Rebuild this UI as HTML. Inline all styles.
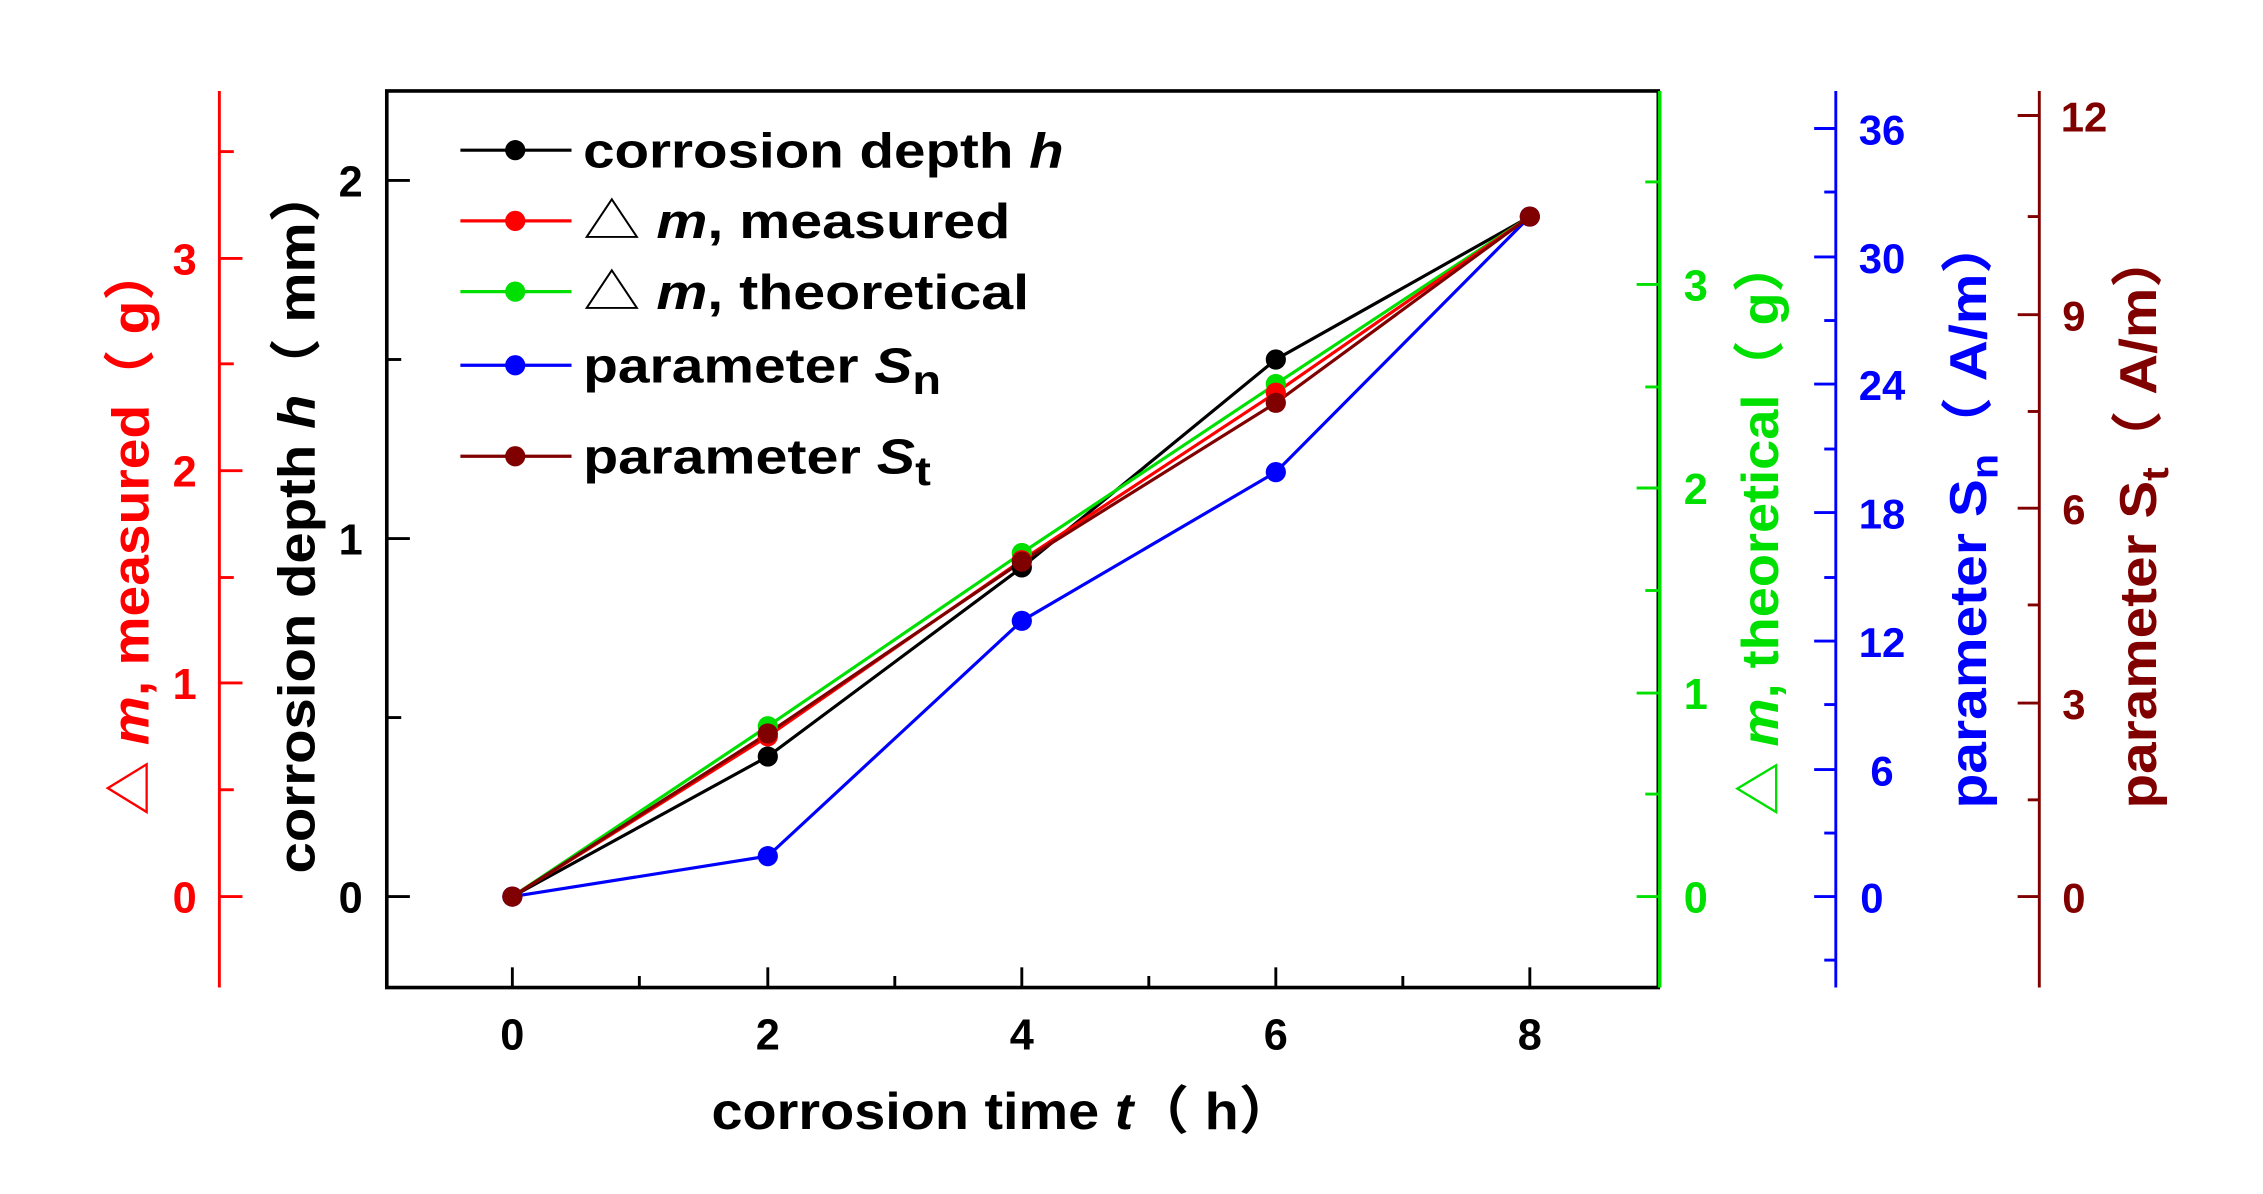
<!DOCTYPE html>
<html><head><meta charset="utf-8"><style>
html,body{margin:0;padding:0;background:#fff}
svg{display:block}
text{font-family:"Liberation Sans","Noto Sans CJK SC",sans-serif;font-weight:bold}
</style></head><body>
<svg width="2263" height="1194" viewBox="0 0 1568 827" preserveAspectRatio="none" xmlns="http://www.w3.org/2000/svg">
<rect width="1568" height="827" fill="#fff"/>
<rect x="268" y="63" width="881" height="621" fill="none" stroke="#000" stroke-width="2.5"/>
<line x1="1150" y1="63" x2="1150" y2="684" stroke="#00e000" stroke-width="2.5"/>
<g stroke="#000" stroke-width="2">
<line x1="355" y1="684" x2="355" y2="670"/><line x1="532" y1="684" x2="532" y2="670"/><line x1="708" y1="684" x2="708" y2="670"/><line x1="884" y1="684" x2="884" y2="670"/><line x1="1060" y1="684" x2="1060" y2="670"/>
<line x1="443" y1="684" x2="443" y2="676"/><line x1="620" y1="684" x2="620" y2="676"/><line x1="796" y1="684" x2="796" y2="676"/><line x1="972" y1="684" x2="972" y2="676"/>
<line x1="268" y1="621" x2="284" y2="621"/><line x1="268" y1="373" x2="284" y2="373"/><line x1="268" y1="125" x2="284" y2="125"/>
<line x1="268" y1="497" x2="278" y2="497"/><line x1="268" y1="249" x2="278" y2="249"/>
</g>
<g font-size="30" fill="#000" text-anchor="middle">
<text x="355" y="727">0</text><text x="532" y="727">2</text><text x="708" y="727">4</text><text x="884" y="727">6</text><text x="1060" y="727">8</text>
<text x="243" y="632">0</text><text x="243" y="384">1</text><text x="243" y="136">2</text>
</g>
<text x="493" y="782" font-size="36" fill="#000" textLength="404" lengthAdjust="spacingAndGlyphs">corrosion time <tspan font-style="italic">t</tspan>（ h）</text>
<text transform="translate(218,605) rotate(-90)" font-size="36" fill="#000" textLength="490" lengthAdjust="spacingAndGlyphs">corrosion depth <tspan font-style="italic">h</tspan>（ mm）</text>

<g stroke="#ff0000" stroke-width="2">
<line x1="152" y1="63" x2="152" y2="684"/>
<line x1="152" y1="621" x2="168" y2="621"/><line x1="152" y1="473" x2="168" y2="473"/><line x1="152" y1="326" x2="168" y2="326"/><line x1="152" y1="179" x2="168" y2="179"/>
<line x1="152" y1="547" x2="162" y2="547"/><line x1="152" y1="400" x2="162" y2="400"/><line x1="152" y1="252" x2="162" y2="252"/><line x1="152" y1="105" x2="162" y2="105"/>
</g>
<g font-size="30" fill="#ff0000" text-anchor="middle">
<text x="128" y="632">0</text><text x="128" y="484">1</text><text x="128" y="337">2</text><text x="128" y="190">3</text>
</g>
<text transform="translate(103,565) rotate(-90)" font-size="36" fill="#ff0000" textLength="395" lengthAdjust="spacingAndGlyphs">△ <tspan font-style="italic">m</tspan>,  measured（ g）</text>

<g stroke="#00e000" stroke-width="2">
<line x1="1150" y1="621" x2="1134" y2="621"/><line x1="1150" y1="480" x2="1134" y2="480"/><line x1="1150" y1="338" x2="1134" y2="338"/><line x1="1150" y1="197" x2="1134" y2="197"/>
<line x1="1150" y1="550" x2="1140" y2="550"/><line x1="1150" y1="409" x2="1140" y2="409"/><line x1="1150" y1="268" x2="1140" y2="268"/><line x1="1150" y1="126" x2="1140" y2="126"/>
</g>
<g font-size="30" fill="#00e000" text-anchor="middle">
<text x="1175" y="632">0</text><text x="1175" y="491">1</text><text x="1175" y="349">2</text><text x="1175" y="208">3</text>
</g>
<text transform="translate(1232,565) rotate(-90)" font-size="36" fill="#00e000" textLength="400" lengthAdjust="spacingAndGlyphs">△ <tspan font-style="italic">m</tspan>,  theoretical（ g）</text>

<g stroke="#0000ff" stroke-width="2">
<line x1="1272" y1="63" x2="1272" y2="684"/>
<line x1="1272" y1="621" x2="1257" y2="621"/><line x1="1272" y1="533" x2="1257" y2="533"/><line x1="1272" y1="444" x2="1257" y2="444"/><line x1="1272" y1="355" x2="1257" y2="355"/><line x1="1272" y1="266" x2="1257" y2="266"/><line x1="1272" y1="178" x2="1257" y2="178"/><line x1="1272" y1="89" x2="1257" y2="89"/>
<line x1="1272" y1="665" x2="1264" y2="665"/><line x1="1272" y1="577" x2="1264" y2="577"/><line x1="1272" y1="488" x2="1264" y2="488"/><line x1="1272" y1="400" x2="1264" y2="400"/><line x1="1272" y1="311" x2="1264" y2="311"/><line x1="1272" y1="222" x2="1264" y2="222"/><line x1="1272" y1="133" x2="1264" y2="133"/>
</g>
<g font-size="29" fill="#0000ff" text-anchor="middle">
<text x="1297" y="632">0</text><text x="1304" y="544">6</text><text x="1304" y="455">12</text><text x="1304" y="366">18</text><text x="1304" y="277">24</text><text x="1304" y="189">30</text><text x="1304" y="100">36</text>
</g>
<text transform="translate(1376,560) rotate(-90)" font-size="36" fill="#0000ff" textLength="410" lengthAdjust="spacingAndGlyphs">parameter S<tspan font-size="26" dy="8">n</tspan><tspan dy="-8">（ A/m）</tspan></text>

<g stroke="#800000" stroke-width="2">
<line x1="1413" y1="63" x2="1413" y2="684"/>
<line x1="1413" y1="621" x2="1398" y2="621"/><line x1="1413" y1="487" x2="1398" y2="487"/><line x1="1413" y1="352" x2="1398" y2="352"/><line x1="1413" y1="218" x2="1398" y2="218"/><line x1="1413" y1="80" x2="1398" y2="80"/>
<line x1="1413" y1="554" x2="1405" y2="554"/><line x1="1413" y1="419" x2="1405" y2="419"/><line x1="1413" y1="285" x2="1405" y2="285"/><line x1="1413" y1="150" x2="1405" y2="150"/>
</g>
<g font-size="29" fill="#800000" text-anchor="middle">
<text x="1437" y="632">0</text><text x="1437" y="498">3</text><text x="1437" y="363">6</text><text x="1437" y="229">9</text><text x="1444" y="91">12</text>
</g>
<text transform="translate(1494,560) rotate(-90)" font-size="36" fill="#800000" textLength="400" lengthAdjust="spacingAndGlyphs">parameter S<tspan font-size="26" dy="8">t</tspan><tspan dy="-8">（ A/m）</tspan></text>

<g fill="none" stroke-width="2.2">
<polyline stroke="#0000ff" points="355,621 532,593 708,430 884,327 1060,150"/>
<polyline stroke="#000" points="355,621 532,524 708,393 884,249 1060,150"/>
<polyline stroke="#00e000" points="355,621 532,503 708,383 884,266 1060,150"/>
<polyline stroke="#ff0000" points="355,621 532,510 708,388 884,272 1060,150"/>
<polyline stroke="#800000" points="355,621 532,508 708,389 884,279 1060,150"/>
</g>
<g fill="#0000ff"><circle cx="355" cy="621" r="7"/><circle cx="532" cy="593" r="7"/><circle cx="708" cy="430" r="7"/><circle cx="884" cy="327" r="7"/><circle cx="1060" cy="150" r="7"/></g>
<g fill="#000"><circle cx="532" cy="524" r="7"/><circle cx="708" cy="393" r="7"/><circle cx="884" cy="249" r="7"/></g>
<g fill="#00e000"><circle cx="532" cy="503" r="7"/><circle cx="708" cy="383" r="7"/><circle cx="884" cy="266" r="7"/></g>
<g fill="#ff0000"><circle cx="532" cy="510" r="7"/><circle cx="708" cy="388" r="7"/><circle cx="884" cy="272" r="7"/></g>
<g fill="#800000"><circle cx="355" cy="621" r="7"/><circle cx="532" cy="508" r="7"/><circle cx="708" cy="389" r="7"/><circle cx="884" cy="279" r="7"/><circle cx="1060" cy="150" r="7"/></g>

<g stroke-width="2.2">
<line x1="319" y1="104" x2="396" y2="104" stroke="#000"/><circle cx="357" cy="104" r="7" fill="#000"/>
<line x1="319" y1="153" x2="396" y2="153" stroke="#ff0000"/><circle cx="357" cy="153" r="7" fill="#ff0000"/>
<line x1="319" y1="202" x2="396" y2="202" stroke="#00e000"/><circle cx="357" cy="202" r="7" fill="#00e000"/>
<line x1="319" y1="253" x2="396" y2="253" stroke="#0000ff"/><circle cx="357" cy="253" r="7" fill="#0000ff"/>
<line x1="319" y1="316" x2="396" y2="316" stroke="#800000"/><circle cx="357" cy="316" r="7" fill="#800000"/>
</g>
<g font-size="34" fill="#000">
<text x="404" y="116" textLength="333" lengthAdjust="spacingAndGlyphs">corrosion depth <tspan font-style="italic">h</tspan></text>
<text x="404" y="165" textLength="296" lengthAdjust="spacingAndGlyphs"><tspan font-weight="normal">△</tspan> <tspan font-style="italic">m</tspan>,   measured</text>
<text x="404" y="214" textLength="309" lengthAdjust="spacingAndGlyphs"><tspan font-weight="normal">△</tspan> <tspan font-style="italic">m</tspan>,   theoretical</text>
<text x="404" y="265" textLength="248" lengthAdjust="spacingAndGlyphs">parameter <tspan font-style="italic">S</tspan><tspan font-size="28" dy="8">n</tspan></text>
<text x="404" y="328" textLength="241" lengthAdjust="spacingAndGlyphs">parameter <tspan font-style="italic">S</tspan><tspan font-size="28" dy="8">t</tspan></text>
</g>
</svg>
</body></html>
